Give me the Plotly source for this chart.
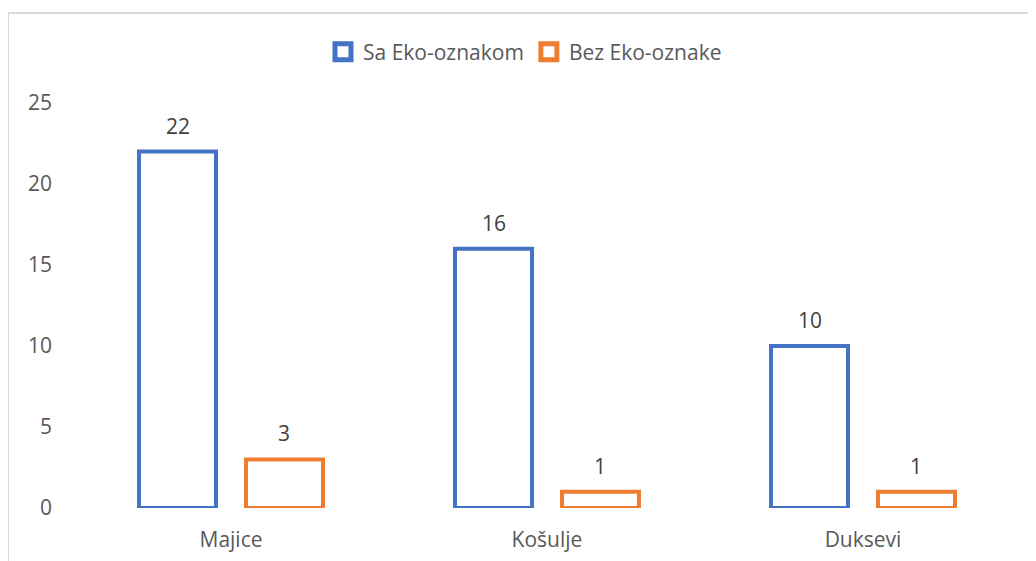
import plotly.graph_objects as go

categories = ["Majice", "Košulje", "Duksevi"]
series_names = ["Sa Eko-oznakom", "Bez Eko-oznake"]
sa_eko = [22, 16, 10]
bez_eko = [3, 1, 1]
colors = ["#4472C4", "#ED7D31"]
y_ticks = [0, 5, 10, 15, 20, 25]

FONT = "Open Sans"
FS = 21
fig = go.Figure()
for name, vals, col in zip(series_names, [sa_eko, bez_eko], colors):
    fig.add_trace(go.Bar(
        x=categories, y=vals, name=name,
        marker=dict(color="white", line=dict(color=col, width=4)),
        hoverinfo="skip", showlegend=False,
    ))
# legend-only entries with a thick-outlined square symbol
for name, col in zip(series_names, colors):
    fig.add_trace(go.Scatter(
        x=[None], y=[None], name=name, mode="markers",
        marker=dict(symbol="square", size=16, color="white",
                    line=dict(color=col, width=5)),
        hoverinfo="skip", showlegend=True,
    ))

# page has an 8px body margin; compensate
L, R, T, B = 65, 23, 95, 61
W, H = 1036, 561
pw, ph = W - L - R, H - T - B
bargap = 0.323
slot = (1 - bargap) / 2
offsets = [-slot / 2, slot / 2]

annotations = []
for vals, off in zip([sa_eko, bez_eko], offsets):
    for i, v in enumerate(vals):
        annotations.append(dict(
            x=i + off, y=v, xref="x", yref="y", text=str(v), showarrow=False,
            yanchor="bottom", yshift=10,
            font=dict(family=FONT, size=FS, color="#404040"),
        ))

fig.update_layout(
    width=W, height=H,
    margin=dict(l=L, r=R, t=T, b=B),
    paper_bgcolor="white", plot_bgcolor="white",
    barmode="group", bargap=bargap, bargroupgap=0.28,
    font=dict(family=FONT, size=FS, color="#595959"),
    showlegend=True,
    legend=dict(orientation="h", x=(525 - 8 - L) / pw, xanchor="center",
                y=(H - B - (52 - 8)) / ph,
                yanchor="middle", font=dict(family=FONT, size=FS, color="#595959"),
                itemwidth=30, tracegroupgap=0, bgcolor="rgba(0,0,0,0)"),
    xaxis=dict(showgrid=False, showline=False, zeroline=False, ticks="",
               ticklabelstandoff=17, tickfont=dict(size=FS, color="#595959"),
               range=[-0.5, 2.5]),
    yaxis=dict(range=[0, 25], tickvals=y_ticks, showgrid=False, showline=False,
               zeroline=False, ticks="", ticklabelstandoff=20,
               tickfont=dict(size=FS, color="#595959")),
    annotations=annotations,
    shapes=[dict(type="rect", xref="paper", yref="paper",
                 x0=(0 - L) / pw, x1=(W + 5 - L) / pw,
                 y0=(H - B - (H + 5)) / ph, y1=(H - B - 5) / ph,
                 line=dict(color="#D9D9D9", width=2), fillcolor="rgba(0,0,0,0)",
                 layer="below")],
)

fig.write_html("out.html")
